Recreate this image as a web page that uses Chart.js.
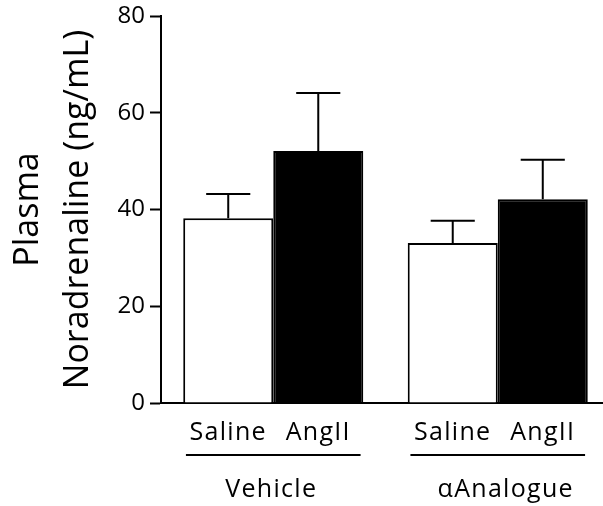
<!DOCTYPE html>
<html>
<head>
<meta charset="utf-8">
<script src="https://cdn.jsdelivr.net/npm/chart.js@4/dist/chart.umd.min.js"></script>
<style>
  html, body { margin: 0; padding: 0; overflow: hidden; background: #fff; }
  canvas { display: block; }
</style>
</head>
<body>
<canvas id="c" width="612" height="506"></canvas>
<script>
// Plasma noradrenaline, mean + SEM per group
const groups = ['Vehicle', 'αAnalogue'];
const treatments = ['Saline', 'AngII'];
const salineMean = [38.2, 33.1];
const salineSem = [5.0, 4.6];
const angMean = [52.1, 42.1];
const angSem = [12.0, 8.2];
const yTicks = [0, 20, 40, 60, 80];

const FONT = 'Open Sans';

// Upward-only SEM whiskers with a cap
const errorBars = {
  id: 'errorBars',
  afterDatasetsDraw(chart) {
    const ctx = chart.ctx;
    const yScale = chart.scales.y;
    ctx.save();
    ctx.strokeStyle = '#000';
    ctx.lineWidth = 2;
    chart.data.datasets.forEach((ds, di) => {
      const meta = chart.getDatasetMeta(di);
      meta.data.forEach((bar, i) => {
        const top = yScale.getPixelForValue(ds.data[i] + ds.sem[i]);
        const half = bar.width * 0.245;
        ctx.beginPath();
        ctx.moveTo(bar.x, bar.y);
        ctx.lineTo(bar.x, top);
        ctx.moveTo(bar.x - half, top);
        ctx.lineTo(bar.x + half, top);
        ctx.stroke();
      });
    });
    ctx.restore();
  }
};

// Treatment labels, group underline and group names below the axis
const groupLabels = {
  id: 'groupLabels',
  afterDraw(chart) {
    const ctx = chart.ctx;
    const m0 = chart.getDatasetMeta(0);
    const m1 = chart.getDatasetMeta(1);
    const base = chart.chartArea.bottom;
    ctx.save();
    ctx.fillStyle = '#000';
    ctx.strokeStyle = '#000';
    ctx.textAlign = 'center';
    ctx.textBaseline = 'alphabetic';
    ctx.font = '25px "' + FONT + '"';
    ctx.letterSpacing = '1.3px';
    groups.forEach((g, i) => {
      const a = m0.data[i];
      const b = m1.data[i];
      ctx.fillText(treatments[0], a.x, base + 37);
      ctx.fillText(treatments[1], b.x, base + 37);
      ctx.lineWidth = 2;
      ctx.beginPath();
      ctx.moveTo(a.x - a.width * 0.47, base + 52);
      ctx.lineTo(b.x + b.width * 0.47, base + 52);
      ctx.stroke();
      const shift = i === 1 ? 8 : -2;
      ctx.fillText(g, (a.x + b.x) / 2 + shift, base + 94);
    });
    ctx.restore();
  }
};

new Chart(document.getElementById('c'), {
  type: 'bar',
  data: {
    labels: groups,
    datasets: [
      {
        label: treatments[0],
        data: salineMean,
        sem: salineSem,
        backgroundColor: '#fff',
        borderColor: '#000',
        borderWidth: 2
      },
      {
        label: treatments[1],
        data: angMean,
        sem: angSem,
        backgroundColor: '#000',
        borderColor: '#000',
        borderWidth: 2
      }
    ]
  },
  options: {
    responsive: false,
    animation: false,
    events: [],
    categoryPercentage: 0.802,
    barPercentage: 1.0,
    layout: { padding: { top: 16, right: 2, left: 0, bottom: 0 } },
    plugins: {
      legend: { display: false },
      tooltip: { enabled: false }
    },
    scales: {
      x: {
        grid: { display: false, drawTicks: false },
        ticks: { display: false },
        border: { display: true, color: '#000', width: 2 },
        afterFit: s => { s.height = 103; }
      },
      y: {
        min: 0,
        max: 80,
        afterBuildTicks: s => { s.ticks = yTicks.map(v => ({ value: v })); },
        ticks: { color: '#000', font: { family: FONT, size: 24 }, padding: 5 },
        grid: {
          display: true,
          drawOnChartArea: false,
          drawTicks: true,
          tickLength: 11,
          tickWidth: 2,
          color: '#000'
        },
        border: { display: true, color: '#000', width: 2 },
        title: {
          display: true,
          text: ['Plasma', 'Noradrenaline (ng/mL)'],
          color: '#000',
          font: { family: FONT, size: 34, lineHeight: 1.45 },
          padding: { top: 4, bottom: 0 }
        },
        afterFit: s => {
          s.width = 161;
          s.paddingTop = 0;
          s.paddingBottom = 0;
        }
      }
    }
  },
  plugins: [errorBars, groupLabels]
});
</script>
</body>
</html>
